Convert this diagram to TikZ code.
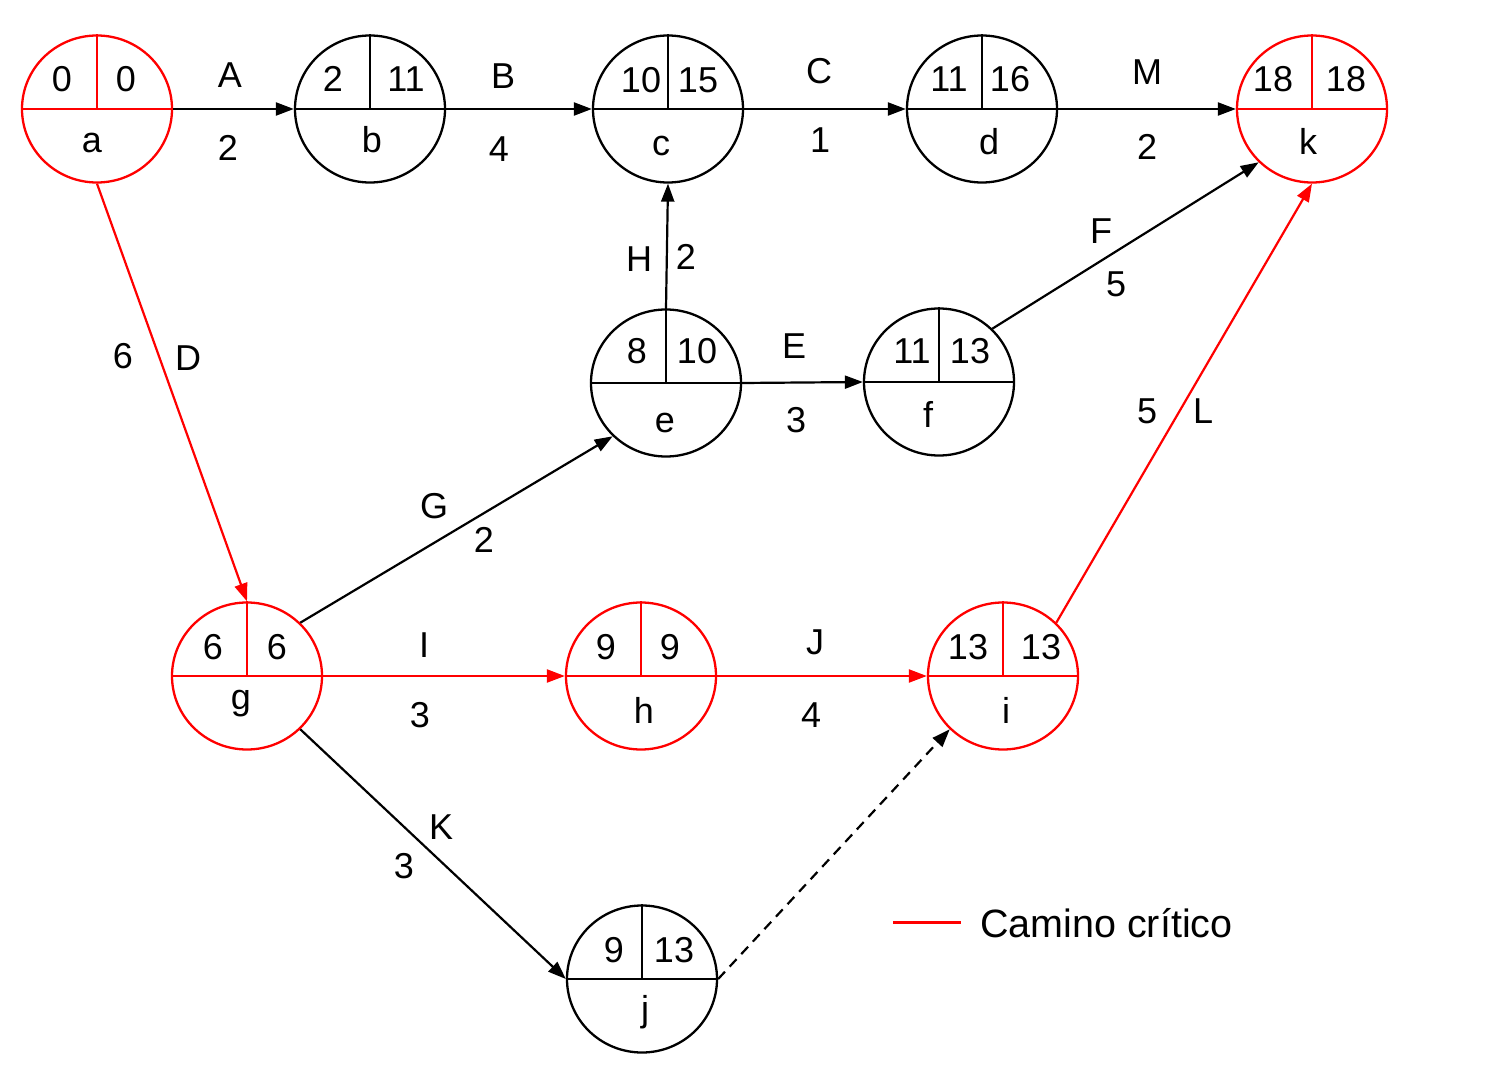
\documentclass[tikz,border=0pt]{standalone}
\usepackage{fontspec}
\setmainfont{Liberation Sans}
\usetikzlibrary{arrows.meta,shapes.geometric}
\newcommand{\evnode}[3]{%
  \node[evt, draw=#3] (#1) at (#2) {};
  \draw[#3, line width=2.3pt] (#1.west) -- (#1.east) (#1.north) -- (#1.center);
}
\begin{document}
\begin{tikzpicture}[x=1pt,y=-1pt,
  evt/.style={ellipse, line width=2.3pt, minimum width=150pt, minimum height=147pt, inner sep=0pt},
  lbl/.style={font=\fontsize{36}{40}\selectfont, anchor=base, inner sep=0pt},
  arr/.style={line width=2.2pt, -{Triangle[length=18pt,width=13pt]}},
  crit/.style={red}]
\useasboundingbox (0,0) rectangle (1512,1067);

% events
\evnode{a}{97,109}{red}
\evnode{b}{370,109}{black}
\evnode{c}{668,109}{black}
\evnode{d}{982,109}{black}
\evnode{k}{1312,109}{red}
\evnode{e}{666,383}{black}
\evnode{f}{939,382}{black}
\evnode{g}{247,676}{red}
\evnode{h}{641,676}{red}
\evnode{i}{1003,676}{red}
\evnode{j}{642,979}{black}

% event texts
\node[lbl] (a1) at (62,92) {0};
\node[lbl] (a2) at (126,92) {0};
\node[lbl] (a3) at (92,153) {a};
\node[lbl] (b1) at (333,92) {2};
\node[lbl] (b2) at (406,92) {11};
\node[lbl] (b3) at (372,153) {b};
\node[lbl] (c1) at (641,93) {10};
\node[lbl] (c2) at (698,93) {15};
\node[lbl] (c3) at (661,156) {c};
\node[lbl] (d1) at (949,92) {11};
\node[lbl] (d2) at (1010,92) {16};
\node[lbl] (d3) at (989,155) {d};
\node[lbl] (k1) at (1273,92) {18};
\node[lbl] (k2) at (1346,92) {18};
\node[lbl] (k3) at (1308,155) {k};
\node[lbl] (e1) at (637,363) {8};
\node[lbl] (e2) at (697,363) {10};
\node[lbl] (e3) at (665,432) {e};
\node[lbl] (f1) at (912,363) {11};
\node[lbl] (f2) at (970,363) {13};
\node[lbl] (f3) at (928,427) {f};
\node[lbl] (g1) at (213,659) {6};
\node[lbl] (g2) at (277,659) {6};
\node[lbl] (g3) at (241,709) {g};
\node[lbl] (h1) at (606,659) {9};
\node[lbl] (h2) at (670,659) {9};
\node[lbl] (h3) at (644,723) {h};
\node[lbl] (i1) at (968,659) {13};
\node[lbl] (i2) at (1041,659) {13};
\node[lbl] (i3) at (1006,723) {i};
\node[lbl] (j1) at (614,962) {9};
\node[lbl] (j2) at (674,962) {13};
\node[lbl] (j3) at (645,1021) {j};

% activities
\draw[arr] (a.east) -- (b.west);
\draw[arr] (b.east) -- (c.west);
\draw[arr] (c.east) -- (d.west);
\draw[arr] (d.east) -- (k.west);
\draw[arr, crit] (a.south) -- (g.north);
\draw[arr] (e.north) -- (c.south);
\draw[arr] (e.east) -- (f.west);
\draw[arr] (f.45) -- (k.225);
\draw[arr] (g.45) -- (e.225);
\draw[arr, crit] (g.east) -- (h.west);
\draw[arr, crit] (h.east) -- (i.west);
\draw[arr, crit] (i.45) -- (k.south);
\draw[arr] (g.-45) -- (j.west);
\draw[arr, dash pattern=on 10pt off 7pt] (j.east) -- (i.225);

% activity labels
\node[lbl] (lA) at (230,88) {A};
\node[lbl] (lA2) at (228,161) {2};
\node[lbl] (lB) at (503,89) {B};
\node[lbl] (lB2) at (499,162) {4};
\node[lbl] (lC) at (819,84) {C};
\node[lbl] (lC2) at (820,153) {1};
\node[lbl] (lM) at (1147,85) {M};
\node[lbl] (lM2) at (1147,160) {2};
\node[lbl] (lF) at (1101,244) {F};
\node[lbl] (lF2) at (1116,296) {5};
\node[lbl] (lH) at (639,272) {H};
\node[lbl] (lH2) at (686,270) {2};
\node[lbl] (lE) at (794,358) {E};
\node[lbl] (lE2) at (796,432) {3};
\node[lbl] (lD2) at (123,368) {6};
\node[lbl] (lD) at (188,370) {D};
\node[lbl] (lG) at (434,518) {G};
\node[lbl] (lG2) at (484,552) {2};
\node[lbl] (lI) at (424,657) {I};
\node[lbl] (lI2) at (420,727) {3};
\node[lbl] (lJ) at (815,654) {J};
\node[lbl] (lJ2) at (811,727) {4};
\node[lbl] (lL2) at (1147,423) {5};
\node[lbl] (lL) at (1203,423) {L};
\node[lbl] (lK) at (441,839) {K};
\node[lbl] (lK2) at (404,878) {3};

% legend
\coordinate (leg1) at (893,922);
\coordinate (leg2) at (961,922);
\draw[red, line width=3pt] (leg1) -- (leg2);
\node[lbl, anchor=base west, font=\fontsize{39.5}{44}\selectfont] (legt) at (980,937) {Camino crítico};
\end{tikzpicture}
\end{document}
